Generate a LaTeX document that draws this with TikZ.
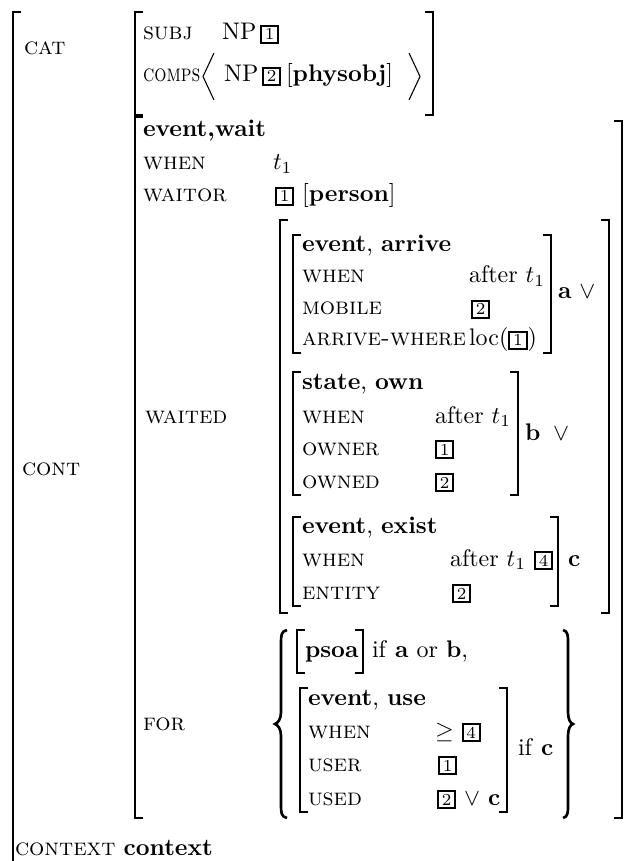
\documentclass[tikz,border=0pt]{standalone}
\usepackage{graphicx}
\newcommand{\tagbox}[1]{{\setlength{\fboxsep}{0.8pt}\setlength{\fboxrule}{0.8pt}\fbox{\kern0.4pt\scriptsize #1\kern0.4pt}}}
\newcommand{\feat}[1]{\textsc{#1}}
\newcommand{\avmL}[3]{\draw[brk] ({#1+8},#2) -- (#1,#2) -- (#1,#3) -- ({#1+8},#3);}
\newcommand{\avmR}[3]{\draw[brk] ({#1-8},#2) -- (#1,#2) -- (#1,#3) -- ({#1-8},#3);}
\begin{document}
\begin{tikzpicture}[x=0.41667pt,y=-0.41667pt,
  every node/.style={inner sep=0pt,outer sep=0pt,anchor=base west},
  brk/.style={line width=1.1pt},
  brc/.style={line width=1.1pt},
  ang/.style={line width=0.45pt}]
\useasboundingbox (0,0) rectangle (626,861);
% outer bracket
\draw[brk] (21,12) -- (13,12) -- (13,866);
\node (cat) at (24,55) {\feat{cat}};
% CAT value
\avmL{135}{12}{115}
\avmR{433}{12}{115}
\node (subj) at (143,40) {\feat{subj}};
\node (subjnp) at (222,40) {NP};
\node (subjtag) at (260,40) {\tagbox{1}};
\node (comps) at (143,82) {\scalebox{0.8}[1]{\feat{comps}}};
\draw[ang] (214,53) -- (203,76.5) -- (214,100);
\draw[ang] (409,53) -- (420,76.5) -- (409,100);
\node (compsnp) at (224,82) {NP};
\node (compstag) at (262,82) {\tagbox{2}};
\node (physobj) at (286,82) {[\textbf{physobj}]};
% CONT
\node (cont) at (22,475) {\feat{cont}};
\avmL{135}{117}{818}
\avmR{622}{121}{818}
\node (ew) at (143,137) {\textbf{event,wait}};
\node (when0) at (143,170) {\feat{when}};
\node (when0v) at (273,170) {$t_1$};
\node (waitor) at (143,202) {\feat{waitor}};
\node (waitorv) at (275,202) {\tagbox{1} [\textbf{person}]};
\node (waited) at (145,423) {\feat{waited}};
\avmL{280}{220}{613}
\avmR{609}{220}{613}
% arrive
\avmL{293}{235}{353}
\avmR{551}{235}{353}
\node (arr) at (302,252) {\textbf{event}, \textbf{arrive}};
\node (w1) at (302,283) {\feat{when}};
\node (w1v) at (469,283) {after $t_1$};
\node (mob) at (302,315) {\feat{mobile}};
\node (mobv) at (471,315) {\tagbox{2}};
\node (aw) at (302,346) {\feat{arrive-where}};
\node (awv) at (469,346) {loc(\tagbox{1})};
\node (a) at (558,299) {\textbf{a} $\vee$};
% own
\avmL{293}{372}{495}
\avmR{518}{372}{495}
\node (own) at (302,390) {\textbf{state}, \textbf{own}};
\node (w2) at (302,423) {\feat{when}};
\node (w2v) at (435,423) {after $t_1$};
\node (owner) at (302,455) {\feat{owner}};
\node (ownerv) at (435,455) {\tagbox{1}};
\node (owned) at (302,488) {\feat{owned}};
\node (ownedv) at (435,488) {\tagbox{2}};
\node (b) at (525,440) {\textbf{b}};
\node (bor) at (553,440) {$\vee$};
% exist
\avmL{293}{517}{606}
\avmR{558}{517}{606}
\node (ex) at (302,533) {\textbf{event}, \textbf{exist}};
\node (w3) at (302,566) {\feat{when}};
\node (w3v) at (450,566) {after $t_1$ \tagbox{4}};
\node (ent) at (302,599) {\feat{entity}};
\node (entv) at (452,599) {\tagbox{2}};
\node (c) at (568,566) {\textbf{c}};
% FOR
\node (for) at (143,730) {\feat{for}};
\draw[brc] (287,630) .. controls (281,631) and (281,636) .. (281,643) -- (281,712) .. controls (281,719) and (278,723) .. (275,724) .. controls (278,725) and (281,729) .. (281,736) -- (281,805) .. controls (281,812) and (281,817) .. (287,818);
\draw[brc] (563,630) .. controls (568,631) and (568,636) .. (568,643) -- (568,712) .. controls (568,719) and (570,723) .. (573,724) .. controls (570,725) and (568,729) .. (568,736) -- (568,805) .. controls (568,812) and (568,817) .. (563,818);
\avmL{297}{630}{673}
\avmR{363}{630}{673}
\node (psoa) at (305,657) {\textbf{psoa}};
\node (ifab) at (372,657) {if \textbf{a} or \textbf{b},};
\avmL{300}{688}{812}
\avmR{507}{688}{812}
\node (use) at (308,705) {\textbf{event}, \textbf{use}};
\node (w4) at (308,738) {\feat{when}};
\node (w4v) at (435,738) {$\geq$ \tagbox{4}};
\node (user) at (308,771) {\feat{user}};
\node (userv) at (438,771) {\tagbox{1}};
\node (used) at (308,805) {\feat{used}};
\node (usedv) at (437,805) {\tagbox{2} $\vee$ \textbf{c}};
\node (ifc) at (518,755) {if \textbf{c}};
% CONTEXT
\node (context) at (15,855) {\feat{context} \textbf{context}};
\end{tikzpicture}
\end{document}
